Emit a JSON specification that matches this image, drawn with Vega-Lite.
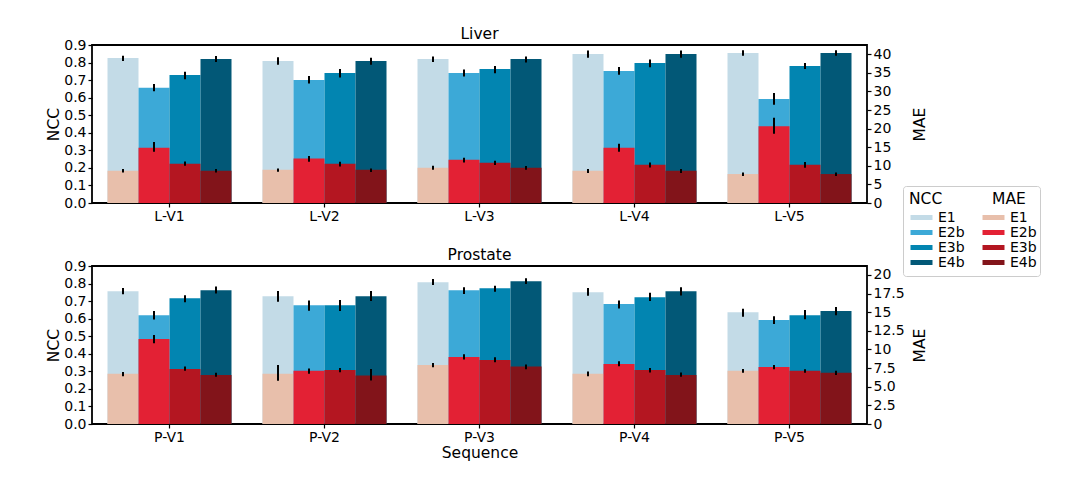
{
  "$schema": "https://vega.github.io/schema/vega-lite/v6.json",
  "padding": {"left": 45, "top": 25, "right": 5, "bottom": 5},
  "background": "white",
  "datasets": {
    "rows": [
      {"organ": "Liver", "seq": "L-V1", "exp": "E1", "ncc": 0.826, "ncc_lo": 0.809, "ncc_hi": 0.839, "mae": 8.68, "mae_lo": 8.23, "mae_hi": 9.13},
      {"organ": "Liver", "seq": "L-V1", "exp": "E2b", "ncc": 0.656, "ncc_lo": 0.637, "ncc_hi": 0.678, "mae": 14.85, "mae_lo": 13.78, "mae_hi": 16.38},
      {"organ": "Liver", "seq": "L-V1", "exp": "E3b", "ncc": 0.729, "ncc_lo": 0.705, "ncc_hi": 0.748, "mae": 10.56, "mae_lo": 10.02, "mae_hi": 11.19},
      {"organ": "Liver", "seq": "L-V1", "exp": "E4b", "ncc": 0.820, "ncc_lo": 0.803, "ncc_hi": 0.837, "mae": 8.68, "mae_lo": 8.23, "mae_hi": 9.13},
      {"organ": "Liver", "seq": "L-V2", "exp": "E1", "ncc": 0.809, "ncc_lo": 0.788, "ncc_hi": 0.830, "mae": 8.95, "mae_lo": 8.41, "mae_hi": 9.31},
      {"organ": "Liver", "seq": "L-V2", "exp": "E2b", "ncc": 0.701, "ncc_lo": 0.681, "ncc_hi": 0.723, "mae": 11.99, "mae_lo": 11.10, "mae_hi": 12.62},
      {"organ": "Liver", "seq": "L-V2", "exp": "E3b", "ncc": 0.741, "ncc_lo": 0.715, "ncc_hi": 0.764, "mae": 10.56, "mae_lo": 9.84, "mae_hi": 11.10},
      {"organ": "Liver", "seq": "L-V2", "exp": "E4b", "ncc": 0.809, "ncc_lo": 0.788, "ncc_hi": 0.828, "mae": 8.95, "mae_lo": 8.32, "mae_hi": 9.31},
      {"organ": "Liver", "seq": "L-V3", "exp": "E1", "ncc": 0.820, "ncc_lo": 0.803, "ncc_hi": 0.835, "mae": 9.49, "mae_lo": 8.95, "mae_hi": 10.02},
      {"organ": "Liver", "seq": "L-V3", "exp": "E2b", "ncc": 0.741, "ncc_lo": 0.720, "ncc_hi": 0.760, "mae": 11.63, "mae_lo": 10.92, "mae_hi": 12.17},
      {"organ": "Liver", "seq": "L-V3", "exp": "E3b", "ncc": 0.764, "ncc_lo": 0.739, "ncc_hi": 0.781, "mae": 10.83, "mae_lo": 10.20, "mae_hi": 11.36},
      {"organ": "Liver", "seq": "L-V3", "exp": "E4b", "ncc": 0.820, "ncc_lo": 0.800, "ncc_hi": 0.835, "mae": 9.49, "mae_lo": 8.95, "mae_hi": 9.93},
      {"organ": "Liver", "seq": "L-V4", "exp": "E1", "ncc": 0.849, "ncc_lo": 0.828, "ncc_hi": 0.868, "mae": 8.68, "mae_lo": 8.05, "mae_hi": 9.13},
      {"organ": "Liver", "seq": "L-V4", "exp": "E2b", "ncc": 0.752, "ncc_lo": 0.731, "ncc_hi": 0.775, "mae": 14.85, "mae_lo": 13.78, "mae_hi": 15.93},
      {"organ": "Liver", "seq": "L-V4", "exp": "E3b", "ncc": 0.798, "ncc_lo": 0.773, "ncc_hi": 0.817, "mae": 10.29, "mae_lo": 9.58, "mae_hi": 10.92},
      {"organ": "Liver", "seq": "L-V4", "exp": "E4b", "ncc": 0.849, "ncc_lo": 0.828, "ncc_hi": 0.868, "mae": 8.68, "mae_lo": 8.05, "mae_hi": 9.13},
      {"organ": "Liver", "seq": "L-V5", "exp": "E1", "ncc": 0.854, "ncc_lo": 0.839, "ncc_hi": 0.870, "mae": 7.79, "mae_lo": 7.25, "mae_hi": 8.23},
      {"organ": "Liver", "seq": "L-V5", "exp": "E2b", "ncc": 0.593, "ncc_lo": 0.559, "ncc_hi": 0.627, "mae": 20.67, "mae_lo": 18.61, "mae_hi": 22.91},
      {"organ": "Liver", "seq": "L-V5", "exp": "E3b", "ncc": 0.781, "ncc_lo": 0.764, "ncc_hi": 0.798, "mae": 10.29, "mae_lo": 9.49, "mae_hi": 11.01},
      {"organ": "Liver", "seq": "L-V5", "exp": "E4b", "ncc": 0.854, "ncc_lo": 0.839, "ncc_hi": 0.870, "mae": 7.79, "mae_lo": 7.25, "mae_hi": 8.23},
      {"organ": "Prostate", "seq": "P-V1", "exp": "E1", "ncc": 0.756, "ncc_lo": 0.739, "ncc_hi": 0.775, "mae": 6.73, "mae_lo": 6.41, "mae_hi": 6.99},
      {"organ": "Prostate", "seq": "P-V1", "exp": "E2b", "ncc": 0.620, "ncc_lo": 0.595, "ncc_hi": 0.643, "mae": 11.40, "mae_lo": 10.82, "mae_hi": 11.94},
      {"organ": "Prostate", "seq": "P-V1", "exp": "E3b", "ncc": 0.717, "ncc_lo": 0.694, "ncc_hi": 0.734, "mae": 7.39, "mae_lo": 7.13, "mae_hi": 7.71},
      {"organ": "Prostate", "seq": "P-V1", "exp": "E4b", "ncc": 0.762, "ncc_lo": 0.743, "ncc_hi": 0.783, "mae": 6.59, "mae_lo": 6.33, "mae_hi": 6.86},
      {"organ": "Prostate", "seq": "P-V2", "exp": "E1", "ncc": 0.728, "ncc_lo": 0.696, "ncc_hi": 0.758, "mae": 6.73, "mae_lo": 5.79, "mae_hi": 7.93},
      {"organ": "Prostate", "seq": "P-V2", "exp": "E2b", "ncc": 0.677, "ncc_lo": 0.645, "ncc_hi": 0.703, "mae": 7.13, "mae_lo": 6.73, "mae_hi": 7.44},
      {"organ": "Prostate", "seq": "P-V2", "exp": "E3b", "ncc": 0.677, "ncc_lo": 0.643, "ncc_hi": 0.707, "mae": 7.26, "mae_lo": 6.95, "mae_hi": 7.53},
      {"organ": "Prostate", "seq": "P-V2", "exp": "E4b", "ncc": 0.728, "ncc_lo": 0.701, "ncc_hi": 0.758, "mae": 6.50, "mae_lo": 5.84, "mae_hi": 7.39},
      {"organ": "Prostate", "seq": "P-V3", "exp": "E1", "ncc": 0.807, "ncc_lo": 0.792, "ncc_hi": 0.826, "mae": 7.93, "mae_lo": 7.62, "mae_hi": 8.20},
      {"organ": "Prostate", "seq": "P-V3", "exp": "E2b", "ncc": 0.762, "ncc_lo": 0.741, "ncc_hi": 0.779, "mae": 9.00, "mae_lo": 8.64, "mae_hi": 9.35},
      {"organ": "Prostate", "seq": "P-V3", "exp": "E3b", "ncc": 0.773, "ncc_lo": 0.753, "ncc_hi": 0.788, "mae": 8.60, "mae_lo": 8.29, "mae_hi": 8.95},
      {"organ": "Prostate", "seq": "P-V3", "exp": "E4b", "ncc": 0.813, "ncc_lo": 0.798, "ncc_hi": 0.830, "mae": 7.71, "mae_lo": 7.35, "mae_hi": 7.97},
      {"organ": "Prostate", "seq": "P-V4", "exp": "E1", "ncc": 0.751, "ncc_lo": 0.730, "ncc_hi": 0.775, "mae": 6.73, "mae_lo": 6.41, "mae_hi": 7.04},
      {"organ": "Prostate", "seq": "P-V4", "exp": "E2b", "ncc": 0.683, "ncc_lo": 0.658, "ncc_hi": 0.703, "mae": 8.06, "mae_lo": 7.75, "mae_hi": 8.42},
      {"organ": "Prostate", "seq": "P-V4", "exp": "E3b", "ncc": 0.722, "ncc_lo": 0.701, "ncc_hi": 0.747, "mae": 7.26, "mae_lo": 6.90, "mae_hi": 7.53},
      {"organ": "Prostate", "seq": "P-V4", "exp": "E4b", "ncc": 0.756, "ncc_lo": 0.732, "ncc_hi": 0.779, "mae": 6.59, "mae_lo": 6.33, "mae_hi": 6.90},
      {"organ": "Prostate", "seq": "P-V5", "exp": "E1", "ncc": 0.637, "ncc_lo": 0.611, "ncc_hi": 0.656, "mae": 7.13, "mae_lo": 6.86, "mae_hi": 7.39},
      {"organ": "Prostate", "seq": "P-V5", "exp": "E2b", "ncc": 0.592, "ncc_lo": 0.569, "ncc_hi": 0.614, "mae": 7.66, "mae_lo": 7.35, "mae_hi": 7.93},
      {"organ": "Prostate", "seq": "P-V5", "exp": "E3b", "ncc": 0.620, "ncc_lo": 0.596, "ncc_hi": 0.649, "mae": 7.13, "mae_lo": 6.86, "mae_hi": 7.35},
      {"organ": "Prostate", "seq": "P-V5", "exp": "E4b", "ncc": 0.643, "ncc_lo": 0.620, "ncc_hi": 0.667, "mae": 6.86, "mae_lo": 6.59, "mae_hi": 7.13}
    ]
  },
  "data": {"name": "rows"},
  "spacing": 22,
  "vconcat": [
    {
      "title": {"text": "Liver"},
      "width": 775,
      "height": 158,
      "transform": [{"filter": "datum.organ === 'Liver'"}],
      "encoding": {
        "x": {"field": "seq", "type": "nominal", "sort": null, "title": null,
              "scale": {"paddingInner": 0.2, "paddingOuter": 0.1},
              "axis": {"labelAngle": 0}},
        "xOffset": {"field": "exp", "type": "nominal", "sort": ["E1", "E2b", "E3b", "E4b"],
                    "scale": {"paddingInner": 0, "paddingOuter": 0}}
      },
      "layer": [
        {
          "layer": [
            {"mark": {"type": "bar"},
             "encoding": {
               "y": {"field": "ncc", "type": "quantitative", "scale": {"domain": [0, 0.9], "nice": false, "zero": true},
                     "axis": {"orient": "left", "title": "NCC", "values": [0, 0.1, 0.2, 0.3, 0.4, 0.5, 0.6, 0.7, 0.8, 0.9], "format": ".1f",
                              "titleX": -39, "titleY": 79, "titleBaseline": "middle", "titleAngle": 270}},
               "fill": {"field": "exp", "type": "nominal", "title": "NCC\u2800\u2800\u2800\u2800\u2800\u2800\u2800\u2800",
                        "scale": {"domain": ["E1", "E2b", "E3b", "E4b"], "range": ["#c3dbe7", "#3ca9d7", "#0285b1", "#025877"]},
                        "legend": {"orient": "none", "legendX": 811, "legendY": 141, "strokeColor": "#cccccc", "cornerRadius": 3, "padding": 6,
                                   "titleAnchor": "start"}}
             }},
            {"mark": {"type": "rule", "strokeWidth": 2, "color": "black"},
             "encoding": {"y": {"field": "ncc_lo", "type": "quantitative", "scale": {"domain": [0, 0.9], "nice": false, "zero": true},
                                "axis": {"orient": "left", "title": "NCC", "values": [0, 0.1, 0.2, 0.3, 0.4, 0.5, 0.6, 0.7, 0.8, 0.9], "format": ".1f",
                                         "titleX": -39, "titleY": 79, "titleBaseline": "middle", "titleAngle": 270}},
                          "y2": {"field": "ncc_hi"}}}
          ]
        },
        {
          "layer": [
            {"mark": {"type": "bar"},
             "encoding": {
               "y": {"field": "mae", "type": "quantitative", "scale": {"domain": [0, 42.5], "nice": false, "zero": true},
                     "axis": {"orient": "right", "title": "MAE", "values": [0, 5, 10, 15, 20, 25, 30, 35, 40], "format": "d",
                              "titleX": 52, "titleY": 79, "titleBaseline": "middle", "titleAngle": 270}},
               "color": {"field": "exp", "type": "nominal", "title": "MAE",
                         "scale": {"range": ["#e8bfab", "#e32134", "#b41621", "#82141a"]},
                         "legend": {"orient": "none", "legendX": 883, "legendY": 141, "padding": 6, "titleAnchor": "middle"}}
             }},
            {"mark": {"type": "rule", "strokeWidth": 2, "color": "black"},
             "encoding": {"y": {"field": "mae_lo", "type": "quantitative", "scale": {"domain": [0, 42.5], "nice": false, "zero": true},
                                "axis": {"orient": "right", "title": "MAE", "values": [0, 5, 10, 15, 20, 25, 30, 35, 40], "format": "d",
                                         "titleX": 52, "titleY": 79, "titleBaseline": "middle", "titleAngle": 270}},
                          "y2": {"field": "mae_hi"}}}
          ]
        }
      ],
      "resolve": {"scale": {"y": "independent"}}
    },
    {
      "title": {"text": "Prostate"},
      "width": 775,
      "height": 158,
      "transform": [{"filter": "datum.organ === 'Prostate'"}],
      "encoding": {
        "x": {"field": "seq", "type": "nominal", "sort": null, "title": "Sequence",
              "scale": {"paddingInner": 0.2, "paddingOuter": 0.1},
              "axis": {"labelAngle": 0, "titlePadding": 1}},
        "xOffset": {"field": "exp", "type": "nominal", "sort": ["E1", "E2b", "E3b", "E4b"],
                    "scale": {"paddingInner": 0, "paddingOuter": 0}}
      },
      "layer": [
        {
          "layer": [
            {"mark": {"type": "bar"},
             "encoding": {
               "y": {"field": "ncc", "type": "quantitative", "scale": {"domain": [0, 0.9], "nice": false, "zero": true},
                     "axis": {"orient": "left", "title": "NCC", "values": [0, 0.1, 0.2, 0.3, 0.4, 0.5, 0.6, 0.7, 0.8, 0.9], "format": ".1f",
                              "titleX": -39, "titleY": 79, "titleBaseline": "middle", "titleAngle": 270}},
               "fill": {"field": "exp", "type": "nominal", "title": "NCC\u2800\u2800\u2800\u2800\u2800\u2800\u2800\u2800",
                        "scale": {"domain": ["E1", "E2b", "E3b", "E4b"], "range": ["#c3dbe7", "#3ca9d7", "#0285b1", "#025877"]},
                        "legend": {"orient": "none", "legendX": 811, "legendY": 141, "strokeColor": "#cccccc", "cornerRadius": 3, "padding": 6,
                                   "titleAnchor": "start"}}
             }},
            {"mark": {"type": "rule", "strokeWidth": 2, "color": "black"},
             "encoding": {"y": {"field": "ncc_lo", "type": "quantitative", "scale": {"domain": [0, 0.9], "nice": false, "zero": true},
                                "axis": {"orient": "left", "title": "NCC", "values": [0, 0.1, 0.2, 0.3, 0.4, 0.5, 0.6, 0.7, 0.8, 0.9], "format": ".1f",
                                         "titleX": -39, "titleY": 79, "titleBaseline": "middle", "titleAngle": 270}},
                          "y2": {"field": "ncc_hi"}}}
          ]
        },
        {
          "layer": [
            {"mark": {"type": "bar"},
             "encoding": {
               "y": {"field": "mae", "type": "quantitative", "scale": {"domain": [0, 21.2], "nice": false, "zero": true},
                     "axis": {"orient": "right", "title": "MAE", "values": [0, 2.5, 5, 7.5, 10, 12.5, 15, 17.5, 20],
                              "labelExpr": "datum.value == 0 ? '0' : (datum.value >= 10 && datum.value % 5 == 0 ? format(datum.value, 'd') : format(datum.value, '.1f'))",
                              "titleX": 52, "titleY": 79, "titleBaseline": "middle", "titleAngle": 270}},
               "color": {"field": "exp", "type": "nominal", "title": "MAE",
                         "scale": {"range": ["#e8bfab", "#e32134", "#b41621", "#82141a"]},
                         "legend": {"orient": "none", "legendX": 883, "legendY": 141, "padding": 6, "titleAnchor": "middle"}}
             }},
            {"mark": {"type": "rule", "strokeWidth": 2, "color": "black"},
             "encoding": {"y": {"field": "mae_lo", "type": "quantitative", "scale": {"domain": [0, 21.2], "nice": false, "zero": true},
                                "axis": {"orient": "right", "title": "MAE", "values": [0, 2.5, 5, 7.5, 10, 12.5, 15, 17.5, 20],
                                         "labelExpr": "datum.value == 0 ? '0' : (datum.value >= 10 && datum.value % 5 == 0 ? format(datum.value, 'd') : format(datum.value, '.1f'))",
                                         "titleX": 52, "titleY": 79, "titleBaseline": "middle", "titleAngle": 270}},
                          "y2": {"field": "mae_hi"}}}
          ]
        }
      ],
      "resolve": {"scale": {"y": "independent"}}
    }
  ],
  "config": {
    "font": "DejaVu Sans",
    "view": {"stroke": "black", "strokeWidth": 1.8},
    "bar": {"stroke": null},
    "title": {"font": "DejaVu Sans", "fontSize": 15.5, "fontWeight": "normal", "color": "black", "baseline": "alphabetic", "offset": -4},
    "axis": {"labelFont": "DejaVu Sans", "labelFontSize": 14, "labelColor": "black", "titleFont": "DejaVu Sans", "titleFontSize": 15.5,
             "titleFontWeight": "normal", "titleColor": "black", "grid": false, "domain": false, "tickColor": "black", "tickSize": 4,
             "tickWidth": 1.2, "labelPadding": 2, "labelOverlap": false},
    "legend": {"labelFont": "DejaVu Sans", "labelFontSize": 14, "labelColor": "black", "titleFont": "DejaVu Sans", "titleFontSize": 15.5,
               "titleFontWeight": "normal", "titleColor": "black", "symbolType": "M-1,-0.45H3V0.45H-1Z", "symbolSize": 121,
               "symbolStrokeWidth": 0, "labelOffset": 15, "rowPadding": 1, "titlePadding": 3, "titleLimit": 300}
  }
}
